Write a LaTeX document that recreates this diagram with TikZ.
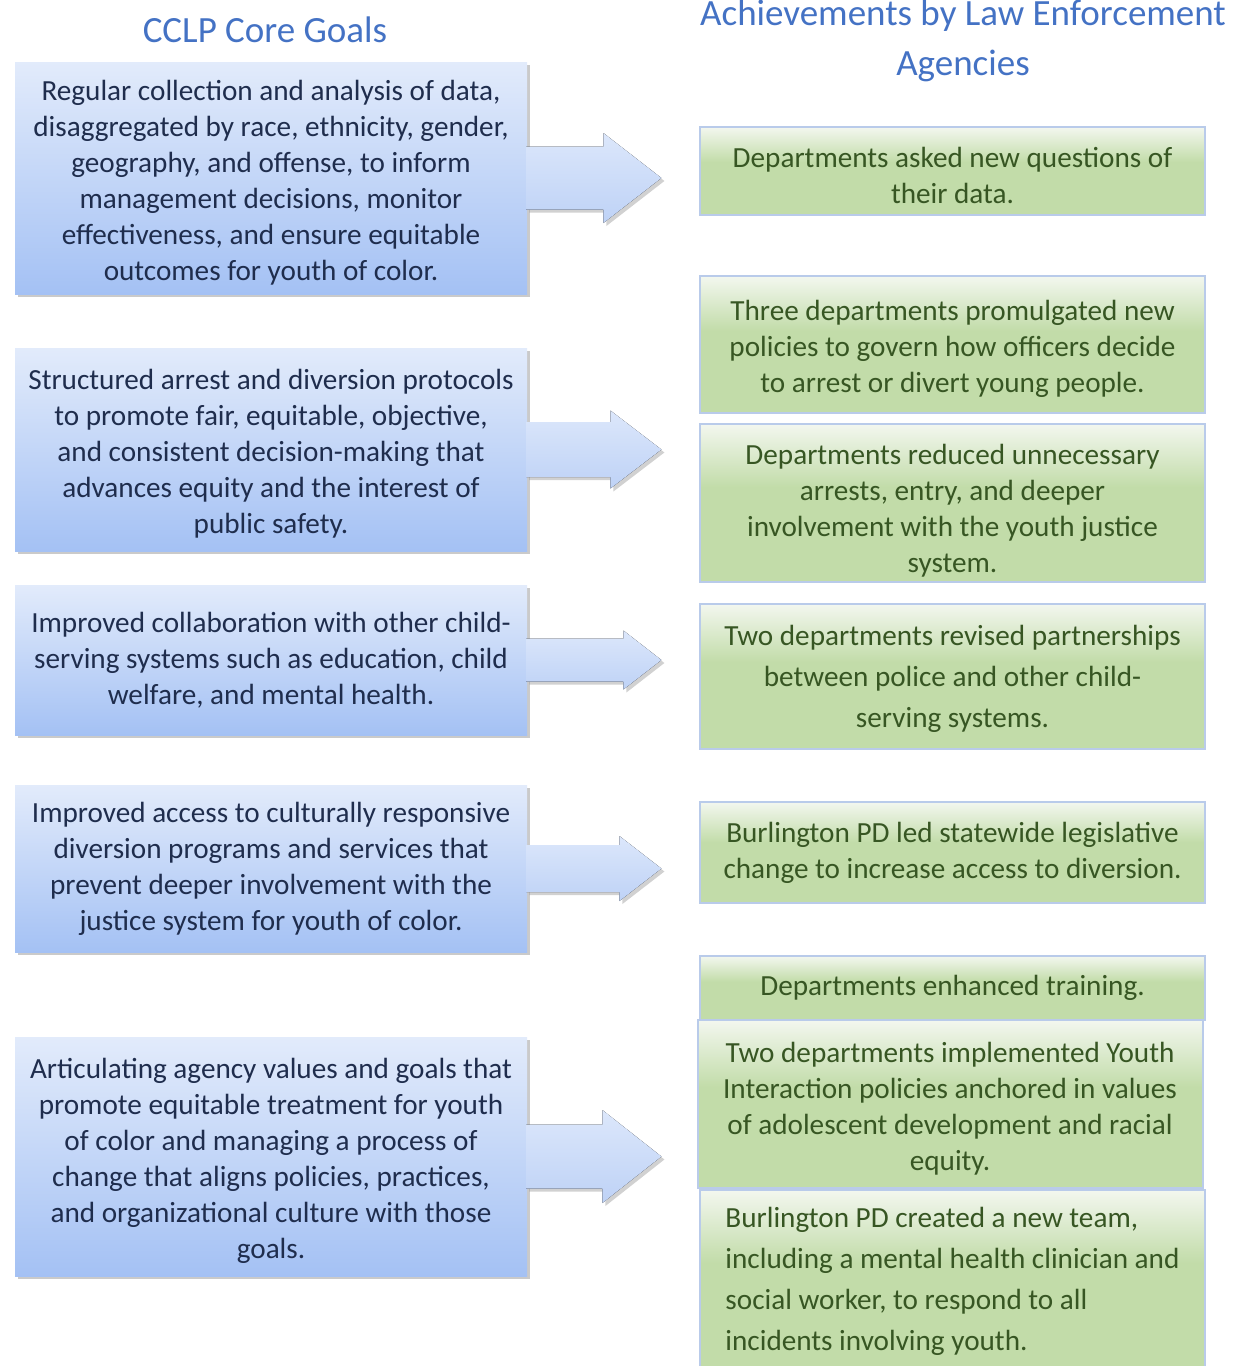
\documentclass[tikz,border=0pt]{standalone}
\usepackage{fontspec}
\setmainfont{Carlito}
\usepackage{xcolor}
\usepackage{tikz}
\usetikzlibrary{calc,shadows}
\definecolor{cclptitle}{HTML}{4472C4}
\definecolor{cclpnavy}{HTML}{1F2D4D}
\definecolor{cclpskytop}{HTML}{E2EBFB}
\definecolor{cclpsky}{HTML}{A4C1F4}
\definecolor{cclparrowtop}{HTML}{DCE7FB}
\definecolor{cclparrow}{HTML}{BED2F6}
\definecolor{leagreen}{HTML}{C2DCA9}
\definecolor{leagreentop}{HTML}{F3F7EF}
\definecolor{leatext}{HTML}{375623}
\definecolor{leaedge}{HTML}{B9CBEA}
\pgfdeclareverticalshading{leashade}{100bp}{color(0bp)=(leagreen); color(55bp)=(leagreen); color(75bp)=(leagreentop); color(100bp)=(leagreentop)}
\newcommand\topstrut{\rule{0pt}{14.5pt}}

\begin{document}
\begin{tikzpicture}[x=0.5pt, y=-0.5pt,
  title/.style={font=\fontsize{18.5}{25}\selectfont, text=cclptitle, align=center},
  goal/.style={rectangle, minimum width=256pt, top color=cclpskytop, bottom color=cclpsky, text=cclpnavy, align=center, font=\fontsize{14.6}{18}\selectfont,
    drop shadow={shadow xshift=1.5pt, shadow yshift=-1.5pt, opacity=0.35, fill=black!60}},
  goalarrow/.style={top color=cclparrowtop, bottom color=cclparrow,
    drop shadow={shadow xshift=1.5pt, shadow yshift=-1.5pt, opacity=0.3, fill=black!60}},
  ach/.style={rectangle, minimum width=252.5pt, shade, shading=leashade, draw=leaedge, line width=1pt, text=leatext, align=center, font=\fontsize{14.6}{18}\selectfont}]
\useasboundingbox (0,0) rectangle (1237,1366);
\clip (0,0) rectangle (1237,1366);
\node[title] (goalshead) at (265,30) {CCLP Core Goals};
\node[title] (achhead) at (963,41) {Achievements by Law Enforcement\\Agencies};

\node[goal, minimum height=116pt] (goalA) at (271,178) {\topstrut Regular collection and analysis of data,\\disaggregated by race, ethnicity, gender,\\geography, and offense, to inform\\management decisions, monitor\\effectiveness, and ensure equitable\\outcomes for youth of color.};
\node[goal, minimum height=101.5pt] (goalB) at (271,449.5) {\topstrut Structured arrest and diversion protocols\\to promote fair, equitable, objective,\\and consistent decision-making that\\advances equity and the interest of\\public safety.};
\node[goal, minimum height=75pt] (goalC) at (271,660) {Improved collaboration with other child-\\serving systems such as education, child\\welfare, and mental health.};
\node[goal, minimum height=83.5pt] (goalD) at (271,868.5) {Improved access to culturally responsive\\diversion programs and services that\\prevent deeper involvement with the\\justice system for youth of color.};
\node[goal, minimum height=119.5pt] (goalE) at (271,1156.5) {\topstrut Articulating agency values and goals that\\promote equitable treatment for youth\\of color and managing a process of\\change that aligns policies, practices,\\and organizational culture with those\\goals.};

\foreach \g/\b/\h/\s in {goalA/76/45/31.5, goalB/83/39/27.5, goalC/96/29.5/21.5, goalD/92/32.5/23.5, goalE/75/46.5/32}
  \fill[goalarrow] ($(\g.east)+(-1,-\s)$) -- ($(\g.east)+(\b,-\s)$) -- ($(\g.east)+(\b,-\h)$) -- ($(\g.east)+(134,0)$)
    -- ($(\g.east)+(\b,\h)$) -- ($(\g.east)+(\b,\s)$) -- ($(\g.east)+(-1,\s)$) -- cycle;

\node[ach, minimum height=44pt] (achA) at (952.5,171) {\topstrut Departments asked new questions of\\their data.};
\node[ach, minimum height=68.5pt] (achB) at (952.5,344.5) {\topstrut Three departments promulgated new\\policies to govern how officers decide\\to arrest or divert young people.};
\node[ach, minimum height=79pt, inner ysep=1pt] (achC) at (952.5,503) {\rule{0pt}{17.5pt}Departments reduced unnecessary\\arrests, entry, and deeper\\involvement with the youth justice\\system.};
\node[ach, minimum height=72.5pt, font=\fontsize{14.6}{20.5}\selectfont] (achD) at (952.5,676.5) {\rule{0pt}{12.5pt}Two departments revised partnerships\\between police and other child-\\serving systems.};
\node[ach, minimum height=50.5pt] (achE) at (952.5,852.5) {Burlington PD led statewide legislative\\change to increase access to diversion.};
\node[ach, minimum height=32pt] (achF) at (952.5,988) {Departments enhanced training.};
\node[ach, minimum height=84pt] (achG) at (950,1104) {\topstrut Two departments implemented Youth\\Interaction policies anchored in values\\of adolescent development and racial\\equity.};
\node[ach, minimum height=91pt, align=left, font=\fontsize{14.6}{20.5}\selectfont] (achH) at (952.5,1281) {Burlington PD created a new team,\\including a mental health clinician and\\social worker, to respond to all\\incidents involving youth.};
\end{tikzpicture}
\end{document}
